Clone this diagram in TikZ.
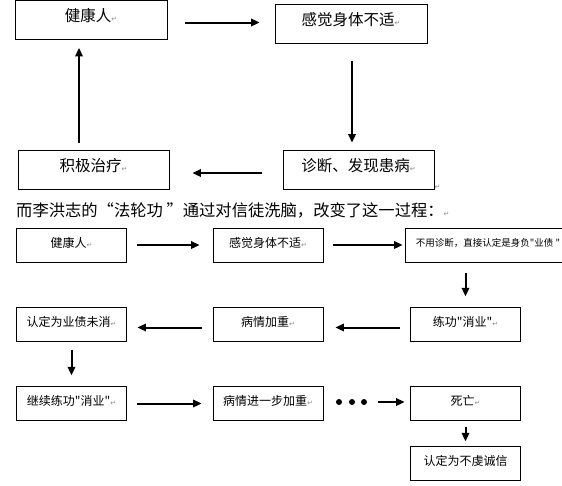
\documentclass[tikz,border=0pt]{standalone}
\usepackage{fontspec}
\newfontfamily\cjk{Noto Sans CJK SC}
\newfontfamily\dejavu{DejaVu Sans}
\usetikzlibrary{arrows.meta}

\definecolor{kMark}{gray}{0.55}
% paragraph mark of the word processor
\newcommand{\pmk}{{\dejavu\fontsize{7}{7}\selectfont\textcolor{kMark}{↵}}}

\begin{document}
\begin{tikzpicture}[x=1pt,y=-1pt,
  bigbox/.style={draw,line width=0.9pt,minimum width=152pt,minimum height=39pt,inner sep=0pt,
    font=\cjk\fontsize{15.5}{16}\selectfont,text height=11pt,text depth=8pt},
  smallbox/.style={draw,line width=0.9pt,minimum width=110pt,minimum height=33.5pt,inner sep=0pt,
    font=\cjk\fontsize{12}{13}\selectfont,text height=9pt,text depth=5pt},
  arr/.style={line width=2pt,-{Triangle[length=8.5pt,width=7.5pt]}}]

  \clip (0,0) rectangle (562,485);
  \fill[white] (0,0) rectangle (562,485);

  % usual course
  \node[bigbox] (hp1) at (91,20) {健康人\pmk};
  \node[bigbox] (fs1) at (351,24) {感觉身体不适\pmk};
  \node[bigbox,minimum width=151pt] (dg1) at (358.5,169.5) {诊断、发现患病\pmk};
  \node[bigbox,minimum width=151pt] (tr1) at (93.5,169.5) {积极治疗\pmk};
  \node[anchor=south west,inner sep=0pt] (pm1) at (dg1.south east) {\pmk};

  \draw[arr,shorten <=18pt,shorten >=15pt] ([yshift=-2.5pt]hp1.east) -- ([yshift=-2.5pt]hp1.east -| fs1.west);
  \draw[arr,shorten <=17pt,shorten >=7pt] ([xshift=1pt]fs1.south) -- ([xshift=1pt]fs1.south |- dg1.north);
  \draw[arr,shorten <=21pt,shorten >=23pt] ([yshift=-3.5pt]dg1.west) -- ([yshift=-3.5pt]dg1.west -| tr1.east);
  \draw[arr,shorten <=7pt,shorten >=8pt] ([xshift=-14.5pt]tr1.north) -- ([xshift=-14.5pt]tr1.north |- hp1.south);

  % heading
  \node[anchor=west,inner sep=0pt,font=\cjk\fontsize{16.3}{17}\selectfont] (head) at (16,210)
    {而李洪志的“法轮功 ”通过对信徒洗脑，改变了这一过程：\pmk};

  % course under the cult
  \node[smallbox,minimum height=34pt] (hp2) at (71.5,245) {健康人\pmk};
  \node[smallbox,minimum height=34pt] (fs2) at (268,245) {感觉身体不适\pmk};
  \node[smallbox,minimum height=34pt,minimum width=166pt,font=\cjk\fontsize{9.5}{11}\selectfont,text depth=7pt]
    (nd2) at (488,245) {不用诊断，直接认定是身负"业债 "};
  \node[smallbox] (xy2) at (465.5,324.5) {练功"消业"\pmk};
  \node[smallbox] (bq2) at (268,324.5) {病情加重\pmk};
  \node[smallbox] (rd2) at (71.5,324.5) {认定为业债未消\pmk};
  \node[smallbox] (jx2) at (71.5,403.5) {继续练功"消业"\pmk};
  \node[smallbox] (bj2) at (268,403.5) {病情进一步加重\pmk};
  \node[smallbox] (sw2) at (465.5,403.5) {死亡\pmk};
  \node[smallbox] (bx2) at (465.5,463.5) {认定为不虔诚信};

  % dots
  \foreach \x in {339,352,364}
  {
    \fill (\x,402) circle (3);
  }
  \coordinate (dd) at (368,402);

  \draw[arr,shorten <=10.5pt,shorten >=13pt] (hp2) -- (fs2);
  \draw[arr,shorten <=10pt,shorten >=2pt] (fs2) -- (fs2 -| nd2.west);
  \draw[arr,shorten <=11pt,shorten >=11pt] (xy2.north |- nd2.south) -- (xy2.north);
  \draw[arr,shorten <=10.5pt,shorten >=12pt] ([yshift=-3pt]xy2.west) -- ([yshift=-3pt]xy2.west -| bq2.east);
  \draw[arr,shorten <=11pt,shorten >=10.5pt] ([yshift=-3pt]bq2.west) -- ([yshift=-3pt]bq2.west -| rd2.east);
  \draw[arr,shorten <=8pt,shorten >=11pt] (rd2) -- (jx2);
  \draw[arr,shorten <=10.5pt,shorten >=11pt] (jx2) -- (bj2);
  \draw[arr,shorten <=10pt,shorten >=5.5pt] (dd) -- (dd -| sw2.west);
  \draw[arr,shorten <=6pt,shorten >=5pt] (sw2) -- (bx2);

\end{tikzpicture}
\end{document}
